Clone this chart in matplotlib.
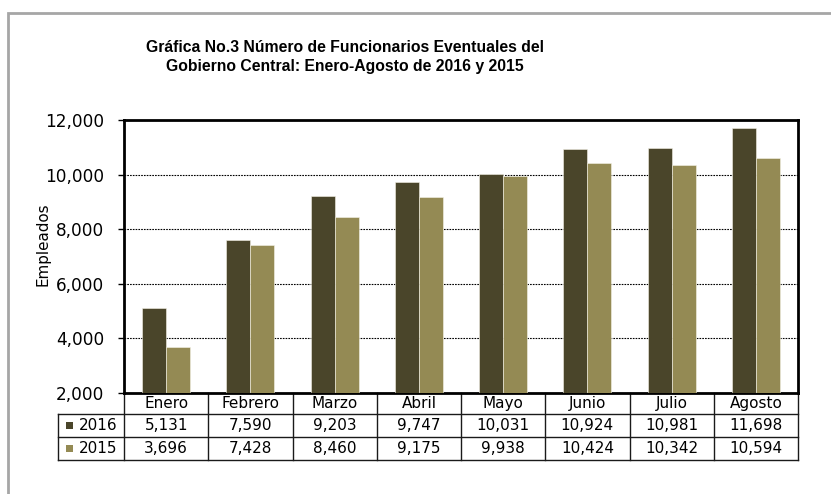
import matplotlib.pyplot as plt
import numpy as np
from matplotlib.patches import Rectangle
from matplotlib.transforms import blended_transform_factory

meses = ['Enero', 'Febrero', 'Marzo', 'Abril', 'Mayo', 'Junio', 'Julio', 'Agosto']
v2016 = [5131, 7590, 9203, 9747, 10031, 10924, 10981, 11698]
v2015 = [3696, 7428, 8460, 9175, 9938, 10424, 10342, 10594]
series = ['2016', '2015']
colores = ['#4a452a', '#948a54']

plt.rcParams['font.family'] = ['DejaVu Sans']

fig = plt.figure(figsize=(8.31, 4.94), dpi=100)
ax = fig.add_axes([124/831, 1-393/494, 674/831, 273/494])

# marco gris del grafico
fig.patches.append(Rectangle((8/831, -0.1), 1.1, 1-13/494+0.1, transform=fig.transFigure,
                             fill=False, edgecolor='#a6a6a6', lw=2))

x = np.arange(len(meses))
w = 0.285
ax.bar(x - w/2, v2016, w, color=colores[0], edgecolor='#f5f3e8', lw=0.4, zorder=3)
ax.bar(x + w/2, v2015, w, color=colores[1], edgecolor='#f5f3e8', lw=0.4, zorder=3)

ax.set_xlim(-0.5, len(meses) - 0.5)
ax.set_ylim(2000, 12000)
ax.set_yticks(range(2000, 12001, 2000))
ax.set_yticklabels([f'{t:,}' for t in range(2000, 12001, 2000)], fontsize=12.2)
ax.set_xticks([])
ax.tick_params(axis='y', length=4.5, width=1, direction='out', pad=9.5)
ax.yaxis.grid(True, linestyle=(0, (1.5, 1)), color='black', lw=0.8, zorder=0)
for s in ax.spines.values():
    s.set_linewidth(2)
ax.set_ylabel('Empleados', fontsize=10.9)
ax.yaxis.set_label_coords((50-124)/674, (393-244)/273)

fig.text(345/831, 1-48/494, 'Gráfica No.3 Número de Funcionarios Eventuales del',
         ha='center', va='center', fontsize=11.3, fontweight='bold', family='Liberation Sans')
fig.text(345/831, 1-67/494, 'Gobierno Central: Enero-Agosto de 2016 y 2015',
         ha='center', va='center', fontsize=11.3, fontweight='bold', family='Liberation Sans')

# tabla de datos bajo el eje
tr = blended_transform_factory(ax.transData, ax.transAxes)
px = 1/273
x_izq = -0.5 - 66/(674/8)
y_fil = [0, -21*px, -44*px, -67*px]
lk = dict(color='#1a1a1a', lw=1, transform=tr, clip_on=False)
for yy in y_fil[1:]:
    ax.plot([x_izq, len(meses) - 0.5], [yy, yy], **lk)
ax.plot([x_izq, x_izq], [y_fil[1], y_fil[3]], **lk)
for i in range(len(meses) + 1):
    ax.plot([i - 0.5, i - 0.5], [0, y_fil[3]], **lk)

for i, m in enumerate(meses):
    ax.text(i, (y_fil[0] + y_fil[1])/2, m, ha='center', va='center', fontsize=11,
            transform=tr, clip_on=False)
for r, vals in enumerate([v2016, v2015]):
    yc = (y_fil[r+1] + y_fil[r+2])/2
    for i, v in enumerate(vals):
        ax.text(i, yc, f'{v:,}', ha='center', va='center', fontsize=11,
                transform=tr, clip_on=False)
    ax.text(-0.5 - 7/(674/8), yc, series[r], ha='right', va='center', fontsize=11,
            transform=tr, clip_on=False)
    ax.add_patch(Rectangle((x_izq + 8/(674/8), yc - 3.5*px), 7/(674/8), 7*px,
                           facecolor=colores[r], edgecolor='none', transform=tr, clip_on=False))

fig.savefig('out.png', dpi=100)
